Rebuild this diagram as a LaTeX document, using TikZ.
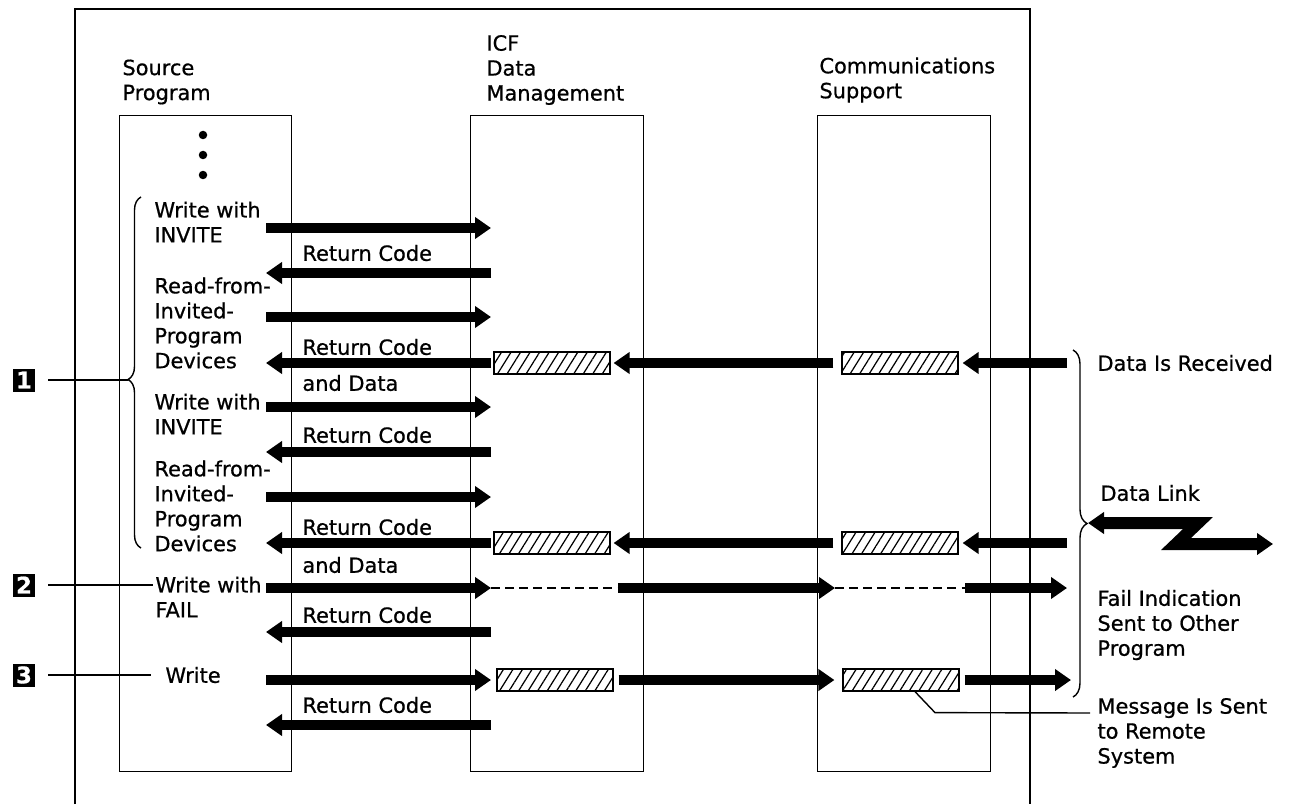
\documentclass[tikz,border=0pt]{standalone}
\usepackage{fontspec}
\setmainfont{DejaVu Sans}[FakeBold=0.7]
\usetikzlibrary{arrows.meta,decorations.pathreplacing,patterns.meta,positioning}
\tikzset{
  lbl/.style    = {font=\fontsize{11.9pt}{14.2pt}\selectfont, align=left,
                   anchor=west, inner sep=1pt},
  colbox/.style = {draw, anchor=north west, minimum height=13.12cm,
                   minimum width=3.46cm, inner sep=0},
  hatch/.style  = {draw, line width=0.7pt, minimum width=2.32cm,
                   minimum height=0.44cm, inner sep=0,
                   pattern={Lines[angle=58,distance=4.6pt,line width=0.7pt]}},
  marker/.style = {fill=black, text=white, inner sep=0, minimum size=0.46cm,
                   font=\bfseries\fontsize{13pt}{14pt}\selectfont,
                   outer xsep=0.26cm},
  fat/.style    = {line width=0.2cm, -{Triangle[length=0.32cm,width=0.42cm]}},
  zlink/.style  = {line width=0.24cm, line join=miter,
                   {Triangle[length=0.32cm,width=0.42cm]}-{Triangle[length=0.32cm,width=0.42cm]}},
  dashlink/.style = {line width=0.8pt, dash pattern=on 5pt off 3pt},
}

\begin{document}
\begin{tikzpicture}[x=0.02cm, y=-0.02cm, line width=0.8pt]
\useasboundingbox (0,0) rectangle (1290,804);

%% -- frame and columns
\draw (75,804) |- (1030,9) -- (1030,804);
\node[colbox, minimum width=3.44cm] (src) at (119,115) {};
\node[colbox] (icf) at (470,115) {};
\node[colbox] (cs)  at (817,115) {};

\node[lbl] (srclbl) at (120,82) {Source\\Program};
\node[lbl] (icflbl) at (484,70) {ICF\\Data\\Management};
\node[lbl] (cslbl)  at (817,80) {Communications\\Support};

\foreach \y in {135,155,175} \fill (203,\y) circle[radius=0.085cm];

%% -- source program requests
\node[lbl] (inv1) at (152,222) {Write with\\INVITE};
\node[lbl] (rd1)  at (152,323) {Read-from-\\Invited-\\Program\\Devices};
\node[lbl] (inv2) at (152,414) {Write with\\INVITE};
\node[lbl] (rd2)  at (152,506) {Read-from-\\Invited-\\Program\\Devices};
\node[lbl] (fail) at (153,597) {Write with\\FAIL};
\node[lbl] (wr)   at (163,675) {Write};

%% -- return codes
\foreach \y in {253,347,435,527,615,705}
  \node[lbl] at (300,\y) {Return Code};
\node[lbl] (data1) at (300,383) {and Data};
\node[lbl] (data2) at (300,565) {and Data};

%% -- markers
\node[marker] (m1) at (24,380) {1};
\node[marker] (m2) at (24,585) {2};
\node[marker] (m3) at (24,675) {3};

\draw[decorate, decoration={brace, amplitude=0.26cm, aspect=0.48}]
  (141,548) -- (141,197);
\coordinate (brL) at (128,380);
\draw (m1) -- (brL);
\draw (m2) -- (m2 -| fail.west);
\draw (m3) -- ([xshift=-0.24cm]wr.west);

%% -- hatched buffers
\node[hatch] (dmh4)  at (552,363) {};
\node[hatch] (csh4)  at (900,363) {};
\node[hatch] (dmh8)  at (552,543) {};
\node[hatch] (csh8)  at (900,543) {};
\node[hatch] (dmh11) at (555,680) {};
\node[hatch] (csh11) at (901,680) {};

%% -- arrows: source program <-> data management
\foreach \n/\y in {1/228,2/273,3/317,4/363,5/407,6/452,
                   7/497,8/543,9/588,10/632,11/680,12/725} {
  \coordinate (sp\n) at (266,\y);
  \coordinate (dm\n) at (491,\y);
}
\foreach \n in {1,3,5,7,9,11} \draw[fat] (sp\n) -- (dm\n);
\foreach \n in {2,4,6,8,10,12} \draw[fat] (dm\n) -- (sp\n);

%% -- arrows: received data
\coordinate (ext4) at (1067,363);
\coordinate (ext8) at (1067,543);
\draw[fat] ([xshift=-0.16cm]csh4.west) -- ([xshift=0.06cm]dmh4.east);
\draw[fat] ([xshift=-0.16cm]csh8.west) -- ([xshift=0.06cm]dmh8.east);
\draw[fat] (ext4) -- ([xshift=0.08cm]csh4.east);
\draw[fat] (ext8) -- ([xshift=0.08cm]csh8.east);

%% -- arrows: fail indication
\coordinate (c9a)  at (618,588);
\coordinate (c9b)  at (835,588);
\coordinate (c9c)  at (965,588);
\coordinate (ext9) at (1067,588);
\draw[dashlink] (dm9) -- (c9a);
\draw[fat] (c9a) -- (c9b);
\draw[dashlink] (c9b) -- (c9c);
\draw[fat] (c9c) -- (ext9);

%% -- arrows: message sent
\coordinate (ext11) at (1071,680);
\draw[fat] ([xshift=0.1cm]dmh11.east) -- ([xshift=-0.16cm]csh11.west);
\draw[fat] ([xshift=0.1cm]csh11.east) -- (ext11);

%% -- data link side
\draw[decorate, decoration={brace, amplitude=0.28cm}] (1073,350) -- (1073,697);
\coordinate (brR) at (1088,523);
\coordinate (dlk) at (1273,544);
\draw[zlink] (brR) -- ++(110,0) -- ++(-22,21) -- (dlk);

\node[lbl] (recv)    at (1095,363) {Data Is Received};
\node[lbl] (link)    at (1098,493) {Data Link};
\node[lbl] (failind) at (1095,625) {Fail Indication\\Sent to Other\\Program};
\node[lbl] (msg)     at (1095,733) {Message Is Sent\\to Remote\\System};

\coordinate (msgpt) at (1090,713);
\draw ([xshift=0.28cm]csh11.south) -- ++(20,21) -- (msgpt);

\end{tikzpicture}
\end{document}
